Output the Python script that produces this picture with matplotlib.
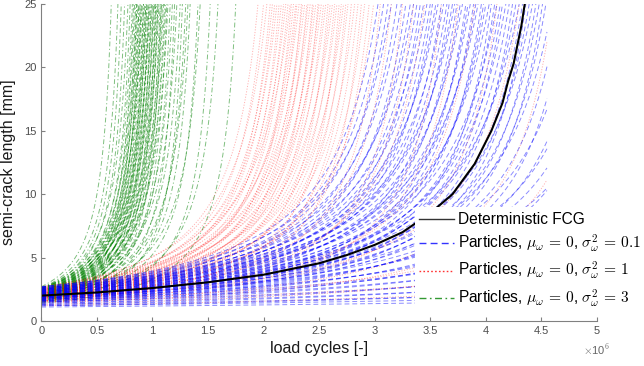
import numpy as np
import matplotlib
matplotlib.use('Agg')
import matplotlib.pyplot as plt

# deterministic fatigue crack growth (cycles in 1e6)
det_cycles = [0, 0.5, 1.0, 1.5, 2.0, 2.5, 2.75, 3.0, 3.25, 3.5, 3.7, 3.9,
              4.05, 4.15, 4.2, 4.25, 4.32, 4.35]
det_crack = [2.0, 2.25, 2.6, 3.05, 3.65, 4.55, 5.2, 6.0, 7.0, 8.5, 10.0, 12.4,
             15.0, 17.2, 18.9, 20.3, 23.3, 25.0]

# particles: initial semi-crack [mm] and cycles (1e6) to reach 25 mm
blue_a0 = [2.7, 2.6, 2.5, 2.7, 2.4, 2.6, 2.3, 2.5, 2.7, 2.4,
           2.2, 2.6, 2.5, 2.3, 2.1, 2.4, 2.6, 2.2, 2.5, 2.3,
           2.0, 2.4, 2.6, 2.1, 2.3, 2.5, 1.9, 2.2, 2.4, 2.0,
           2.3, 2.5, 1.9, 2.1, 2.2, 2.4, 1.8, 2.0, 2.3, 2.1,
           1.9, 2.2, 2.0, 1.8, 2.1, 2.3, 1.9, 1.7, 2.0, 2.2,
           1.8, 2.0, 1.7, 1.9, 2.1, 1.8, 1.6, 2.0, 1.7, 1.9,
           1.8, 1.6, 1.9, 1.7, 1.5, 1.8, 1.6, 1.7, 1.5, 1.6,
           1.4, 1.5, 1.3, 1.4, 1.2, 1.3, 1.2, 1.1]
blue_n25 = [3.03, 3.08, 3.12, 3.15, 3.20, 3.24, 3.28, 3.32, 3.35, 3.38,
            3.41, 3.44, 3.47, 3.50, 3.52, 3.55, 3.57, 3.60, 3.62, 3.65,
            3.67, 3.70, 3.72, 3.74, 3.77, 3.79, 3.82, 3.84, 3.86, 3.89,
            3.91, 3.93, 3.96, 3.98, 4.00, 4.03, 4.05, 4.08, 4.10, 4.13,
            4.15, 4.18, 4.21, 4.24, 4.27, 4.30, 4.33, 4.36, 4.39, 4.42,
            4.45, 4.48, 4.51, 4.54, 4.60, 4.66, 4.72, 4.80, 4.88, 4.96,
            5.05, 5.15, 5.25, 5.40, 5.55, 5.70, 5.90, 6.10, 6.40, 6.70,
            7.10, 7.60, 8.20, 9.00, 10.0, 11.5, 13.5, 16.0]

red_a0 = [2.6, 2.4, 2.7, 2.2, 2.5, 2.3, 2.6, 2.1, 2.4, 2.0,
          2.5, 2.2, 2.7, 1.9, 2.3, 2.4, 2.1, 2.6, 1.8, 2.2,
          2.5, 2.0, 2.3, 2.6, 1.9, 2.1, 2.4, 1.8, 2.2, 2.5,
          2.0, 2.3, 1.7, 2.1, 2.4, 1.9, 2.2, 1.6, 2.0, 2.3,
          1.8, 2.1, 1.7, 2.2, 1.9, 1.6, 2.0, 1.8, 2.1, 1.7,
          1.9, 1.6, 1.8, 2.0, 1.5, 1.7, 1.9, 1.6, 1.8, 1.5,
          1.4, 1.6, 1.3, 1.5, 1.2]
red_n25 = [1.95, 2.00, 2.03, 2.06, 2.08, 2.10, 2.12, 2.14, 2.16, 2.18,
           2.20, 2.22, 2.24, 2.25, 2.27, 2.29, 2.30, 2.32, 2.34, 2.35,
           2.37, 2.39, 2.40, 2.42, 2.44, 2.45, 2.47, 2.49, 2.50, 2.52,
           2.54, 2.56, 2.58, 2.60, 2.62, 2.64, 2.66, 2.68, 2.70, 2.72,
           2.74, 2.76, 2.79, 2.82, 2.85, 2.88, 2.91, 2.95, 2.99, 3.05,
           3.15, 3.25, 3.35, 3.45, 3.60, 3.75, 3.90, 4.10, 4.30, 4.60,
           5.00, 5.60, 6.50, 7.50, 9.00]

green_a0 = [2.7, 2.6, 2.5, 2.4, 2.6, 2.3, 2.5, 2.2, 2.4, 2.1,
            2.6, 2.0, 2.3, 2.5, 1.9, 2.2, 2.4, 2.0, 2.6, 1.8,
            2.3, 2.1, 2.5, 1.9, 2.2, 2.4, 1.7, 2.0, 2.3, 2.6,
            1.9, 2.1, 2.4, 1.8, 2.2, 2.5, 2.0, 1.7, 2.3, 1.9,
            2.1, 2.4, 1.8, 2.2, 1.6, 2.0, 2.3, 1.9, 2.1, 1.7,
            2.2, 1.8, 2.0, 1.6, 2.1, 1.9, 1.5, 1.8, 2.0, 1.7,
            1.6, 1.9, 1.5, 1.7, 1.4]
green_n25 = [0.63, 0.69, 0.72, 0.75, 0.78, 0.80, 0.82, 0.83, 0.84, 0.85,
             0.86, 0.86, 0.87, 0.88, 0.88, 0.89, 0.90, 0.90, 0.91, 0.92,
             0.92, 0.93, 0.94, 0.94, 0.95, 0.95, 0.96, 0.97, 0.97, 0.98,
             0.99, 0.99, 1.00, 1.01, 1.01, 1.02, 1.03, 1.03, 1.04, 1.05,
             1.05, 1.06, 1.07, 1.08, 1.08, 1.09, 1.10, 1.11, 1.12, 1.13,
             1.14, 1.16, 1.18, 1.20, 1.22, 1.25, 1.27, 1.30, 1.32, 1.34,
             1.41, 1.43, 1.52, 1.59, 1.75]

labels = ['Deterministic FCG',
          r'Particles, $\mu_\omega\,=\,0$, $\sigma^2_\omega\,=\,0.1$',
          r'Particles, $\mu_\omega\,=\,0$, $\sigma^2_\omega\,=\,1$',
          r'Particles, $\mu_\omega\,=\,0$, $\sigma^2_\omega\,=\,3$']

PARIS_P = 1 - 3.75 / 2   # 1 - m/2 of the Paris law
A_CRIT = 25.0
N_END = 4.55             # simulation horizon [1e6 cycles]


def paris_curve(a0, n25):
    # closed-form Paris-law growth passing through (0, a0) and (n25, 25)
    k = (a0 ** PARIS_P - A_CRIT ** PARIS_P) / n25
    if n25 > N_END:
        a_end = (a0 ** PARIS_P - k * N_END) ** (1 / PARIS_P)
    else:
        a_end = A_CRIT
    a = np.geomspace(a0, a_end, 120)
    n = (a0 ** PARIS_P - a ** PARIS_P) / k
    return n, a


plt.rcParams['font.family'] = ['Liberation Sans', 'DejaVu Sans']
plt.rcParams['mathtext.fontset'] = 'cm'

fig = plt.figure(figsize=(6.44, 3.66), dpi=100)
ax = fig.add_axes([0.064, 0.123, 0.863, 0.866])

groups = [(green_a0, green_n25,
           dict(color=(0, 0.5, 0), dashes=(5, 2.5, 1.2, 2.5), alpha=0.5)),
          (red_a0, red_n25,
           dict(color=(1, 0, 0), dashes=(1.2, 1.6), alpha=0.3)),
          (blue_a0, blue_n25,
           dict(color=(0, 0, 1), dashes=(5, 3), alpha=0.45))]
handles = []
for a0s, n25s, style in groups:
    for a0, n25 in zip(a0s, n25s):
        n, a = paris_curve(a0, n25)
        line, = ax.plot(n, a, lw=0.7, **style)
    handles.append(line)

det, = ax.plot(det_cycles, det_crack, color='k', lw=1.5)

ax.set_xlim(0, 5)
ax.set_ylim(0, 25)
ax.set_xticks(np.arange(0, 5.01, 0.5))
ax.set_xticklabels(['%g' % t for t in np.arange(0, 5.01, 0.5)])
ax.set_yticks(range(0, 26, 5))
for s in ['top', 'right']:
    ax.spines[s].set_visible(False)
for s in ['left', 'bottom']:
    ax.spines[s].set_color('0.5')
ax.tick_params(direction='in', length=3, colors='0.5', labelcolor='0.3',
               labelsize=8)

ax.set_xlabel('load cycles [-]', fontsize=11.5, color='0.1', labelpad=4)
ax.set_ylabel('semi-crack length [mm]', fontsize=11.5, color='0.1',
              labelpad=6)
fig.text(0.927, 0.03, r'$\times$10$^{6}$', fontsize=8, color='0.4',
         ha='center')

leg = ax.legend([det, handles[2], handles[1], handles[0]], labels,
                loc='lower left', bbox_to_anchor=(0.644, 0.14),
                bbox_transform=fig.transFigure, fontsize=11.2, frameon=True,
                framealpha=1, edgecolor='none', fancybox=False,
                handlelength=2.2, handletextpad=0.3, labelspacing=0.35,
                borderpad=0.3, borderaxespad=0)
for h in leg.get_lines():
    h.set_alpha(0.8)
    h.set_linewidth(1.0)

plt.savefig('out.png', dpi=100)
